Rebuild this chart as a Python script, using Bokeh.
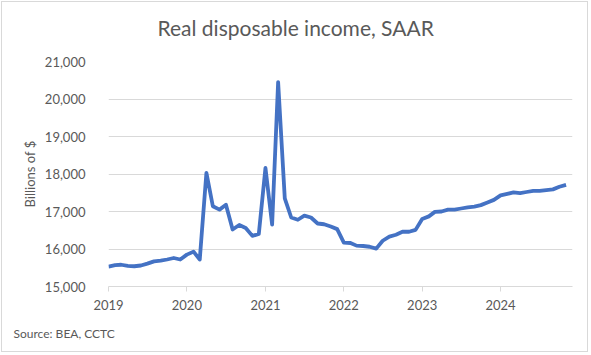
import pandas as pd
from bokeh.plotting import figure
from bokeh.models import (Range1d, FixedTicker, DatetimeTickFormatter, NumeralTickFormatter,
                          ColumnDataSource, Title)
from bokeh.embed import file_html
from bokeh.resources import INLINE

start_month = "2019-01-01"
income = [
    # 2019
    15530, 15570, 15580, 15550, 15540, 15560, 15610, 15670, 15690, 15720, 15760, 15720,
    # 2020
    15850, 15930, 15720, 18030, 17140, 17050, 17180, 16520, 16640, 16560, 16350, 16400,
    # 2021
    18160, 16650, 20450, 17350, 16840, 16780, 16890, 16840, 16680, 16660, 16600, 16530,
    # 2022
    16170, 16160, 16090, 16080, 16060, 16010, 16220, 16330, 16380, 16460, 16460, 16510,
    # 2023
    16800, 16870, 16990, 17000, 17050, 17050, 17080, 17110, 17130, 17170, 17240, 17310,
    # 2024
    17430, 17470, 17510, 17490, 17520, 17550, 17550, 17570, 17590, 17660, 17710,
]
year_ticks = [2019, 2020, 2021, 2022, 2023, 2024]
y_ticks = [15000, 16000, 17000, 18000, 19000, 20000, 21000]

dates = pd.date_range(start_month, periods=len(income), freq="MS")
src = ColumnDataSource(data=dict(date=dates, income=income))

FONT = "Lato"
GREY = "#595959"

p = figure(width=587, height=351, output_backend="svg", toolbar_location=None, title=None,
           x_axis_type="datetime",
           x_range=Range1d(pd.Timestamp(dates[0]), pd.Timestamp(dates[-1]) + pd.DateOffset(months=1)),
           y_range=Range1d(15000, 21000),
           min_border_left=106, min_border_right=17, min_border_top=59, min_border_bottom=67,
           styles={"border": "1px solid #d9d9d9", "margin": "1px"})

# spacer between frame and title (closest to frame)
p.add_layout(Title(text=" ", text_font_size="1px", standoff=19), "above")
p.add_layout(Title(text="Real disposable income, SAAR", align="left", offset=49, standoff=0,
                   text_font=FONT, text_font_size="21px", text_font_style="normal",
                   text_color=GREY), "above")

p.add_layout(Title(text="Source: BEA, CCTC", align="left", offset=-95, standoff=22,
                   text_font=FONT, text_font_size="12px", text_font_style="normal",
                   text_color=GREY), "below")

p.line("date", "income", source=src, line_color="#4472c4", line_width=3.8, line_join="round")

xa = p.xaxis[0]
xa.ticker = FixedTicker(ticks=[pd.Timestamp(f"{y}-01-01").timestamp() * 1000 for y in year_ticks])
xa.formatter = DatetimeTickFormatter(years="%Y", months="%Y", days="%Y", hours="%Y")
xa.axis_line_color = "#d9d9d9"
xa.major_tick_line_color = "#d9d9d9"
xa.major_tick_out = 5
xa.major_tick_in = 0
xa.minor_tick_line_color = None
xa.major_label_text_font = FONT
xa.major_label_text_font_size = "13px"
xa.major_label_text_color = GREY
xa.major_label_standoff = 8

ya = p.yaxis[0]
ya.ticker = FixedTicker(ticks=y_ticks)
ya.formatter = NumeralTickFormatter(format="0,0")
ya.axis_line_color = None
ya.major_tick_line_color = None
ya.minor_tick_line_color = None
ya.major_label_text_font = FONT
ya.major_label_text_font_size = "13px"
ya.major_label_text_color = GREY
ya.major_label_standoff = 17
ya.axis_label = "Billions of $"
ya.axis_label_text_font = FONT
ya.axis_label_text_font_size = "13px"
ya.axis_label_text_font_style = "normal"
ya.axis_label_text_color = GREY
ya.axis_label_standoff = 4

p.xgrid.grid_line_color = None
p.ygrid.grid_line_color = "#d9d9d9"
p.ygrid.grid_line_width = 1
p.outline_line_color = None

open("out.html", "w").write(file_html(p, INLINE))
